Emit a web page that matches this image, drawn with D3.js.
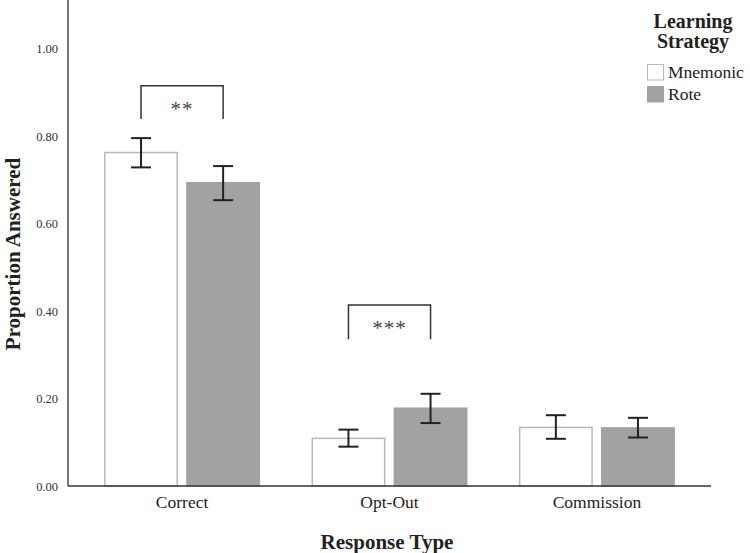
<!DOCTYPE html>
<html lang="en">
<head>
  <meta charset="utf-8">
  <title>Proportion Answered by Response Type</title>
  <script src="https://cdn.jsdelivr.net/npm/d3@7/dist/d3.min.js"></script>
  <style>
    body { margin: 0; background: #fff; }
    svg { display: block; font-family: "Liberation Serif", "Times New Roman", serif; }
  </style>
</head>
<body>
  <div id="chart"></div>
  <script>
    // data
    var categories = ["Correct", "Opt-Out", "Commission"];
    var strategies = ["Mnemonic", "Rote"];
    var mnemonicMeans = [0.763, 0.109, 0.134];
    var mnemonicLow = [0.729, 0.090, 0.108];
    var mnemonicHigh = [0.796, 0.129, 0.162];
    var roteMeans = [0.694, 0.178, 0.133];
    var roteLow = [0.654, 0.144, 0.111];
    var roteHigh = [0.732, 0.211, 0.156];
    var yTicks = [0, 0.2, 0.4, 0.6, 0.8, 1.0];
    // significance brackets: category, bracket top, leg bottom, label
    var sigCats = ["Correct", "Opt-Out"];
    var sigTop = [0.916, 0.414];
    var sigBottom = [0.840, 0.336];
    var sigLabels = ["**", "***"];

    var width = 750, height = 553;
    var plotLeft = 68, plotRight = 711, plotBottom = 486;

    var svg = d3.select('#chart')
      .append('svg')
      .attr('width', width)
      .attr('height', height);

    var y = d3.scaleLinear()
      .domain([0, 1.112])
      .range([plotBottom, 0]);

    var x0 = d3.scaleBand()
      .domain(categories)
      .range([plotLeft, plotRight])
      .paddingInner(0.248)
      .paddingOuter(0.174);

    var x1 = d3.scaleBand()
      .domain(strategies)
      .range([0, x0.bandwidth()])
      .paddingInner(0.1);

    var fills = { Mnemonic: '#ffffff', Rote: '#a2a2a4' };
    var strokes = { Mnemonic: '#b8b8b8', Rote: '#a2a2a4' };

    var rows = [];
    categories.forEach(function (c, i) {
      rows.push({ cat: c, s: 'Mnemonic', v: mnemonicMeans[i], lo: mnemonicLow[i], hi: mnemonicHigh[i] });
      rows.push({ cat: c, s: 'Rote', v: roteMeans[i], lo: roteLow[i], hi: roteHigh[i] });
    });

    // bars
    svg.append('g')
      .selectAll('rect')
      .data(rows)
      .enter()
      .append('rect')
      .attr('x', d => x0(d.cat) + x1(d.s) + 0.75)
      .attr('y', d => y(d.v))
      .attr('width', x1.bandwidth() - 1.5)
      .attr('height', d => y(0) - y(d.v))
      .style('fill', d => fills[d.s])
      .style('stroke', d => strokes[d.s])
      .style('stroke-width', 1.5);

    // error bars
    var capW = 10;
    var err = svg.append('g')
      .selectAll('g')
      .data(rows)
      .enter()
      .append('g')
      .style('stroke', '#222')
      .style('stroke-width', 2);
    var cx = d => x0(d.cat) + x1(d.s) + x1.bandwidth() / 2;
    err.append('line')
      .attr('x1', cx).attr('x2', cx)
      .attr('y1', d => y(d.lo)).attr('y2', d => y(d.hi));
    err.append('line')
      .attr('x1', d => cx(d) - capW).attr('x2', d => cx(d) + capW)
      .attr('y1', d => y(d.hi)).attr('y2', d => y(d.hi));
    err.append('line')
      .attr('x1', d => cx(d) - capW).attr('x2', d => cx(d) + capW)
      .attr('y1', d => y(d.lo)).attr('y2', d => y(d.lo));

    // y axis
    svg.append('line')
      .attr('x1', plotLeft).attr('x2', plotLeft)
      .attr('y1', 0).attr('y2', plotBottom)
      .style('stroke', '#7a7a7a')
      .style('stroke-width', 2);

    svg.append('g')
      .selectAll('text')
      .data(yTicks)
      .enter()
      .append('text')
      .attr('x', 58)
      .attr('y', d => y(d) + 4.5)
      .attr('text-anchor', 'end')
      .style('font-size', '12.5px')
      .style('fill', '#333')
      .text(d => d3.format('.2f')(d));

    // x axis
    svg.append('line')
      .attr('x1', plotLeft).attr('x2', plotRight)
      .attr('y1', plotBottom).attr('y2', plotBottom)
      .style('stroke', '#333')
      .style('stroke-width', 1.5);

    svg.append('g')
      .selectAll('text')
      .data(categories)
      .enter()
      .append('text')
      .attr('x', d => x0(d) + x0.bandwidth() / 2)
      .attr('y', 508)
      .attr('text-anchor', 'middle')
      .style('font-size', '17.5px')
      .style('fill', '#222')
      .text(d => d);

    // axis titles
    svg.append('text')
      .attr('x', 387)
      .attr('y', 549)
      .attr('text-anchor', 'middle')
      .style('font-size', '21px')
      .style('font-weight', 'bold')
      .style('fill', '#222')
      .text('Response Type');

    svg.append('text')
      .attr('transform', 'translate(20,254) rotate(-90)')
      .attr('text-anchor', 'middle')
      .style('font-size', '21px')
      .style('font-weight', 'bold')
      .style('fill', '#222')
      .text('Proportion Answered');

    // significance brackets
    sigCats.forEach(function (c, i) {
      var xl = x0(c) + x1('Mnemonic') + x1.bandwidth() / 2;
      var xr = x0(c) + x1('Rote') + x1.bandwidth() / 2;
      svg.append('path')
        .attr('d', 'M' + xl + ',' + y(sigBottom[i]) + 'V' + y(sigTop[i]) + 'H' + xr + 'V' + y(sigBottom[i]))
        .style('fill', 'none')
        .style('stroke', '#333')
        .style('stroke-width', 1.5);
      svg.append('text')
        .attr('x', (xl + xr) / 2)
        .attr('y', y(sigTop[i]) + 30)
        .attr('text-anchor', 'middle')
        .style('font-size', '21px')
        .style('letter-spacing', '1px')
        .style('fill', '#444')
        .text(sigLabels[i]);
    });

    // legend
    var legend = svg.append('g');
    legend.append('text')
      .attr('x', 693).attr('y', 28)
      .attr('text-anchor', 'middle')
      .style('font-size', '20px')
      .style('font-weight', 'bold')
      .style('fill', '#222')
      .text('Learning');
    legend.append('text')
      .attr('x', 693).attr('y', 48)
      .attr('text-anchor', 'middle')
      .style('font-size', '20px')
      .style('font-weight', 'bold')
      .style('fill', '#222')
      .text('Strategy');

    var items = legend.selectAll('g.item')
      .data(strategies)
      .enter()
      .append('g')
      .attr('class', 'item')
      .attr('transform', (d, i) => 'translate(647,' + (64 + i * 22) + ')');
    items.append('rect')
      .attr('x', 0.5).attr('y', 0.5)
      .attr('width', 16).attr('height', 15.5)
      .style('fill', d => fills[d])
      .style('stroke', d => strokes[d])
      .style('stroke-width', 1);
    items.append('text')
      .attr('x', 21)
      .attr('y', 13.5)
      .style('font-size', '17.5px')
      .style('fill', '#222')
      .text(d => d);
  </script>
</body>
</html>
